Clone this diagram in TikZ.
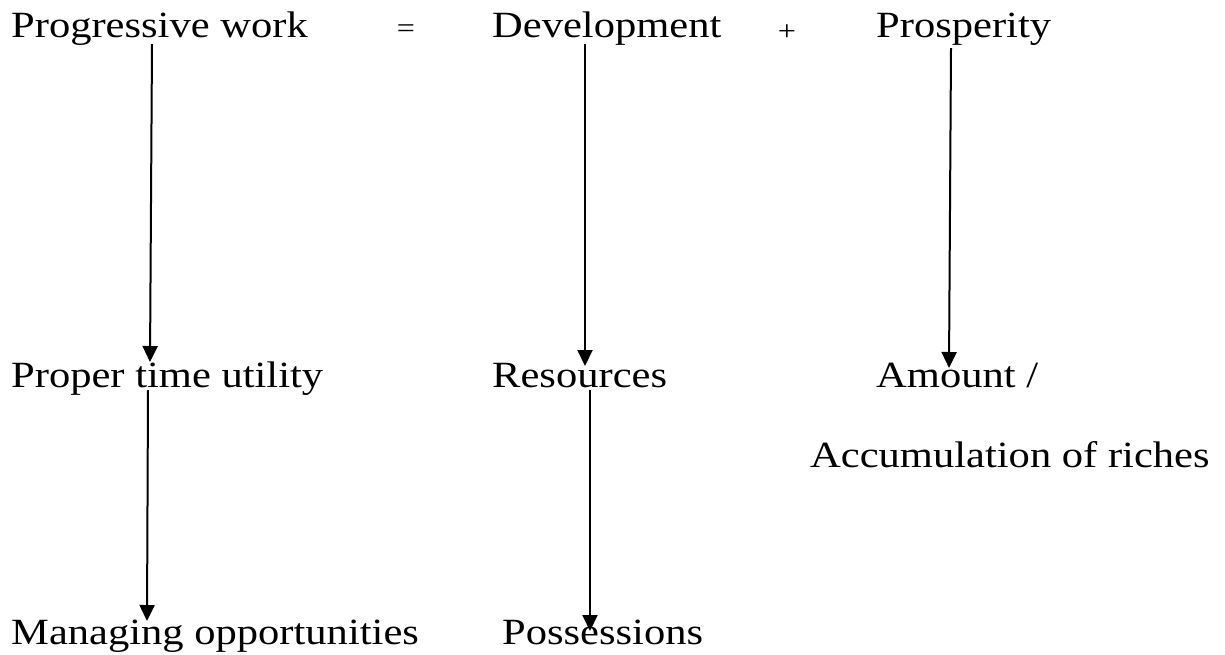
\documentclass[tikz,border=0pt]{standalone}
\usepackage{fontspec}
\setmainfont{Liberation Serif}[FakeStretch=1.15]
\usetikzlibrary{arrows.meta}
\begin{document}
\begin{tikzpicture}[x=1pt,y=-1pt,
  lbl/.style={anchor=base west,inner sep=0pt,font=\fontsize{37}{41}\selectfont},
  op/.style={anchor=center,inner sep=0pt,font=\fontsize{28}{32}\selectfont},
  arr/.style={line width=2pt,-{Triangle[length=16pt,width=15pt]}}]
\useasboundingbox (0,0) rectangle (1225,654);
% row 1
\node[lbl] (pw) at (11,37) {Progressive work};
\node[op] (eq) at (406,31) {=};
\node[lbl] (dev) at (492,37) {Development};
\node[op] (plus) at (787,33) {+};
\node[lbl] (pro) at (876,37) {Prosperity};
% row 2
\node[lbl] (ptu) at (11,387) {Proper time utility};
\node[lbl] (res) at (492,387) {Resources};
\node[lbl] (amt) at (876,387) {Amount /};
% row 3
\node[lbl] (acc) at (810,467) {Accumulation of riches};
% row 4
\node[lbl] (mo) at (11,644) {Managing opportunities};
\node[lbl] (pos) at (502,644) {Possessions};
% arrow end points
\coordinate (a1s) at (152,44);  \coordinate (a1e) at (150,362);
\coordinate (a2s) at (585,44);  \coordinate (a2e) at (585,366);
\coordinate (a3s) at (951,48);  \coordinate (a3e) at (949,368);
\coordinate (a4s) at (148,390); \coordinate (a4e) at (147,621);
\coordinate (a5s) at (590,390); \coordinate (a5e) at (590,631);
\draw[arr] (a1s) -- (a1e);
\draw[arr] (a2s) -- (a2e);
\draw[arr] (a3s) -- (a3e);
\draw[arr] (a4s) -- (a4e);
\draw[arr] (a5s) -- (a5e);
\end{tikzpicture}
\end{document}
